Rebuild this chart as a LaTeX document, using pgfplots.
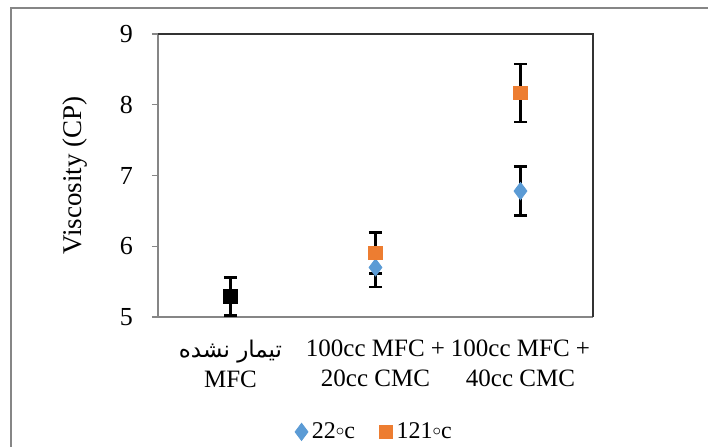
\documentclass[border=0pt]{standalone}
\usepackage{pgfplots}
\pgfplotsset{compat=1.18}
\usepackage{fontspec}
\setmainfont{Liberation Serif}
\newfontfamily\arabicfont[Script=Arabic]{DejaVu Sans}
\TeXXeTstate=1
\definecolor{cblue}{HTML}{5B9BD5}
\definecolor{corange}{HTML}{ED7D31}
\definecolor{cgray}{HTML}{868686}
\newcommand{\dg}{\raisebox{0.3ex}{$\scriptstyle\circ$}}
\begin{document}
\begin{tikzpicture}[x=1pt,y=1pt]
\useasboundingbox (0,0) rectangle (354,223);
\draw[cgray, line width=1pt] (5.5,-2) -- (5.5,219) -- (356,219);
\begin{axis}[
  at={(79pt,64.5pt)}, anchor=south west,
  scale only axis, width=217.5pt, height=141.5pt,
  xmin=0.5, xmax=3.5, ymin=5, ymax=9,
  axis x line*=bottom, axis y line*=left,
  axis line style={cgray, line width=0.6pt},
  ytick={5,6,7,8,9},
  xtick={1,2,3},
  xticklabels={{\arabicfont\fontsize{11.5}{15}\selectfont\beginR تیمار نشده\endR\\MFC},{100cc MFC +\\20cc CMC},{100cc MFC +\\40cc CMC}},
  xticklabel style={align=center, font=\fontsize{12.5}{15}\selectfont, yshift=-5pt},
  yticklabel style={font=\fontsize{13}{15}\selectfont, xshift=-6pt},
  /pgf/number format/assume math mode=true,
  x tick style={draw=none},
  y tick style={cgray, line width=0.6pt},
  tick align=outside, major tick length=3pt,
  extra x ticks={0.5,1.5,2.5,3.5},
  extra x tick labels={},
  extra x tick style={tick style={draw=cgray, line width=0.6pt}, major tick length=5pt},
  xtick pos=bottom, ytick pos=left,
  ylabel={Viscosity (CP)},
  ylabel style={font=\fontsize{13.5}{15}\selectfont, at={(axis description cs:-0.19,0.5)}, anchor=center},
  legend style={draw=none, at={(0.5,-0.406)}, anchor=center, legend columns=2,
    font=\fontsize{12}{14}\selectfont, /tikz/every even column/.append style={column sep=10pt}},
  legend cell align=left,
  clip=false,
]
\addplot[only marks, mark=diamond*, mark size=4.3pt, color=cblue,
  error bars/.cd, y dir=both, y explicit,
  error bar style={black, line width=1.2pt},
  error mark options={rotate=90, mark size=3.3pt, black, line width=1.2pt}]
  coordinates {(2,5.70) +- (0,0.28) (3,6.78) +- (0,0.345)};
\addlegendentry{22\dg c}
\addplot[only marks, mark=square*, mark size=3.4pt, color=corange,
  error bars/.cd, y dir=both, y explicit,
  error bar style={black, line width=1.2pt},
  error mark options={rotate=90, mark size=3.3pt, black, line width=1.2pt}]
  coordinates {(2,5.905) +- (0,0.29) (3,8.17) +- (0,0.41)};
\addlegendentry{121\dg c}
\addplot[only marks, mark=square*, mark size=3.4pt, color=black, forget plot,
  error bars/.cd, y dir=both, y explicit,
  error bar style={black, line width=1.2pt},
  error mark options={rotate=90, mark size=3.3pt, black, line width=1.2pt}]
  coordinates {(1,5.29) +- (0,0.27)};
\draw[black!80, line width=1.2pt] (rel axis cs:0,1) -- (rel axis cs:1,1) -- (rel axis cs:1,0);
\end{axis}
\end{tikzpicture}
\end{document}
